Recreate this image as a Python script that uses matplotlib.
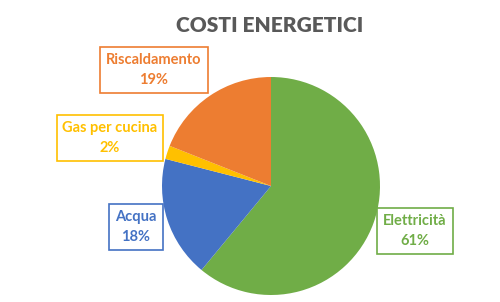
import matplotlib
matplotlib.use("Agg")
import matplotlib.pyplot as plt

categories = ["Elettricità", "Acqua", "Gas per cucina", "Riscaldamento"]
values = [61, 18, 2, 19]
colors = ["#70AD47", "#4472C4", "#FFC000", "#ED7D31"]
title = "COSTI ENERGETICI"

W, H = 500, 302
fig = plt.figure(figsize=(W / 100, H / 100), dpi=100)
ax = fig.add_axes([0, 0, 1, 1])

cx, cy, r = 271, H - 186, 109
ax.pie(values, colors=colors, startangle=90, counterclock=False,
       center=(cx, cy), radius=r, frame=True,
       wedgeprops=dict(linewidth=0))
ax.set_xlim(0, W)
ax.set_ylim(0, H)
ax.set_aspect("equal")
ax.axis("off")

label_pos = [(415, 231), (136, 227), (110, 138), (154, 70)]
for cat, v, col, (lx, ly) in zip(categories, values, colors, label_pos):
    ax.text(lx, H - ly, f"{cat}\n{v}%", ha="center", va="center",
            fontsize=10.5, fontweight="bold", color=col, family="Lato",
            linespacing=1.5,
            bbox=dict(boxstyle="square,pad=0.4", fc="white", ec=col, lw=1.2))

ax.text(270, H - 25, title, ha="center", va="center", fontsize=15,
        fontweight="heavy", color="#595959", family="Lato")

fig.savefig("out.png", dpi=100, facecolor="white")
